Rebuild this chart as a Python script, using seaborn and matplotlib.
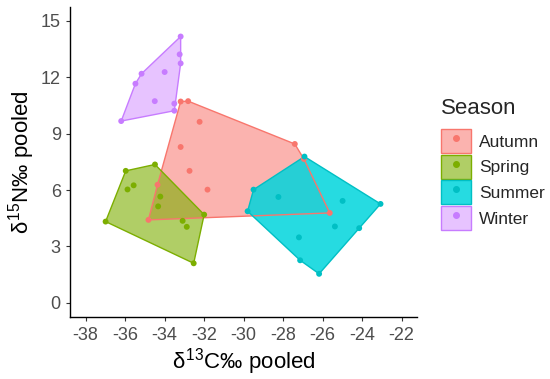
import matplotlib
matplotlib.use("Agg")
import matplotlib.pyplot as plt
import seaborn as sns
import numpy as np
import pandas as pd
from matplotlib.patches import Patch
from matplotlib.lines import Line2D

seasons = ["Autumn", "Spring", "Summer", "Winter"]

autumn_x = [-33.19, -32.81, -32.23, -27.41, -26.95, -33.19, -32.74, -31.83, -34.36, -34.82, -25.64]
autumn_y = [10.71, 10.73, 9.63, 8.45, 7.65, 8.29, 7.02, 6.02, 6.28, 4.41, 4.78]

spring_x = [-36.99, -35.97, -34.49, -35.88, -35.57, -34.22, -34.33, -32.00, -33.09, -32.88, -32.53]
spring_y = [4.32, 7.02, 7.36, 6.03, 6.25, 5.65, 5.13, 4.69, 4.36, 4.04, 2.10]

summer_x = [-26.92, -29.50, -29.80, -28.24, -24.99, -23.07, -25.38, -24.15, -27.20, -27.14, -26.18]
summer_y = [7.78, 6.02, 4.87, 5.63, 5.42, 5.26, 4.06, 3.97, 3.48, 2.26, 1.54]

winter_x = [-33.19, -33.24, -33.19, -35.17, -34.00, -35.48, -34.50, -33.51, -33.51, -36.20]
winter_y = [14.17, 13.22, 12.74, 12.19, 12.28, 11.66, 10.73, 10.60, 10.22, 9.67]

x_ticks = [-38, -36, -34, -32, -30, -28, -26, -24, -22]
y_ticks = [0, 3, 6, 9, 12, 15]

colors = {"Autumn": "#F8766D", "Spring": "#7CAE00", "Summer": "#00BFC4", "Winter": "#C77CFF"}
fills = {"Autumn": ("#F8766D", 0.55), "Spring": ("#7CAE00", 0.6),
         "Summer": ("#00D5DC", 0.85), "Winter": ("#D89BFF", 0.6)}

df = pd.concat([
    pd.DataFrame({"x": autumn_x, "y": autumn_y, "Season": "Autumn"}),
    pd.DataFrame({"x": spring_x, "y": spring_y, "Season": "Spring"}),
    pd.DataFrame({"x": summer_x, "y": summer_y, "Season": "Summer"}),
    pd.DataFrame({"x": winter_x, "y": winter_y, "Season": "Winter"}),
], ignore_index=True)


def convex_hull(pts):
    # monotone chain
    pts = sorted(set(pts))
    def cross(o, a, b):
        return (a[0] - o[0]) * (b[1] - o[1]) - (a[1] - o[1]) * (b[0] - o[0])
    lower, upper = [], []
    for p in pts:
        while len(lower) >= 2 and cross(lower[-2], lower[-1], p) <= 0:
            lower.pop()
        lower.append(p)
    for p in reversed(pts):
        while len(upper) >= 2 and cross(upper[-2], upper[-1], p) <= 0:
            upper.pop()
        upper.append(p)
    return np.array(lower[:-1] + upper[:-1])


sns.set_theme(style="ticks")
plt.rcParams["font.family"] = ["Liberation Sans", "DejaVu Sans"]
plt.rcParams["mathtext.fontset"] = "custom"
plt.rcParams["mathtext.rm"] = "Liberation Sans"
plt.rcParams["mathtext.it"] = "Liberation Sans"

fig, ax = plt.subplots(figsize=(5.5, 3.79), dpi=100)
fig.subplots_adjust(left=0.127, right=0.759, bottom=0.164, top=0.982)

for s in seasons:
    sub = df[df["Season"] == s]
    hull = convex_hull(list(zip(sub["x"], sub["y"])))
    fc, a = fills[s]
    ax.fill(hull[:, 0], hull[:, 1], facecolor=fc, alpha=a, edgecolor="none", zorder=1)
    ax.fill(hull[:, 0], hull[:, 1], facecolor="none", edgecolor=colors[s], linewidth=1.0, zorder=2)

sns.scatterplot(data=df, x="x", y="y", hue="Season", palette=colors, s=18,
                linewidth=0, legend=False, ax=ax, zorder=3)

ax.set_xlim(-38.8, -21.2)
ax.set_ylim(-0.75, 15.75)
ax.set_xticks(x_ticks)
ax.set_yticks(y_ticks)
ax.set_xticklabels([str(t) for t in x_ticks])
ax.tick_params(labelsize=13, labelcolor="#4D4D4D", color="#333333", length=3, width=0.8)
ax.tick_params(axis="x", pad=4)
for sp in ["top", "right"]:
    ax.spines[sp].set_visible(False)
for sp in ["left", "bottom"]:
    ax.spines[sp].set_linewidth(1.0)
    ax.spines[sp].set_color("black")

ax.set_xlabel(r"$\delta^{13}$C‰ pooled", fontsize=16, color="black", labelpad=2)
ax.set_ylabel(r"$\delta^{15}$N‰ pooled", fontsize=16, color="black", labelpad=3)

handles = []
for s in seasons:
    fc, a = fills[s]
    patch = Patch(facecolor=matplotlib.colors.to_rgba(fc, a), edgecolor=colors[s], linewidth=1.0)
    dot = Line2D([], [], marker="o", linestyle="none", color=colors[s], markersize=4)
    handles.append((patch, dot))

# legend title as separate text so the gap to the keys matches
fig.text(441 / 550, 1 - 108 / 379, "Season", fontsize=16, ha="left", va="center")
leg = fig.legend(handles, seasons, loc="upper left",
                 bbox_to_anchor=(441 / 550, 1 - 129 / 379), frameon=False,
                 fontsize=12.5, handlelength=1.75, handleheight=1.75,
                 labelspacing=0.1, handletextpad=0.45, borderpad=0, borderaxespad=0)

plt.savefig("out.png", dpi=100)
plt.close()
